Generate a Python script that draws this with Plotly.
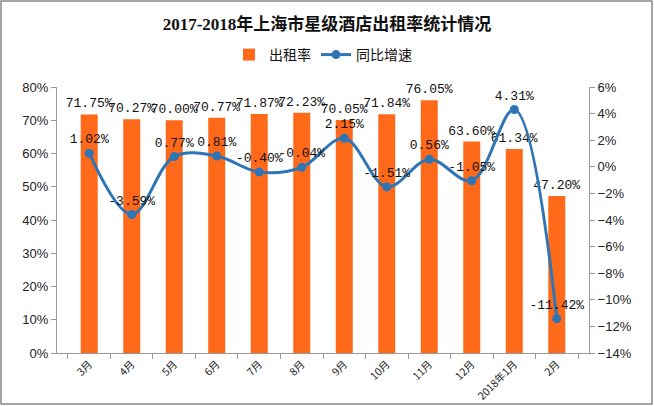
import plotly.graph_objects as go

categories = ["3月", "4月", "5月", "6月", "7月", "8月", "9月", "10月", "11月", "12月", "2018年1月", "2月"]
occupancy = [71.75, 70.27, 70.00, 70.77, 71.87, 72.23, 70.05, 71.84, 76.05, 63.60, 61.34, 47.20]
yoy = [1.02, -3.59, 0.77, 0.81, -0.40, -0.04, 2.15, -1.51, 0.56, -1.05, 4.31, -11.42]

W, H = 654, 406
L, R, T, B = 57, 65, 87, 53
pw, ph = W - L - R, H - T - B

label_font = dict(family="Liberation Mono, Noto Sans CJK SC", size=13, color="#111111")

fig = go.Figure()
fig.add_trace(go.Bar(
    x=categories, y=occupancy, name="出租率",
    marker=dict(color="#FF6A1A", line=dict(width=0)),
    text=[f"{v:.2f}%" for v in occupancy], textposition="outside",
    textfont=label_font, cliponaxis=False, constraintext="none", textangle=0,
))
fig.add_trace(go.Scatter(
    x=categories, y=yoy, name="同比增速", yaxis="y2",
    mode="lines+markers+text", line=dict(color="#2E75B6", width=3, shape="spline", smoothing=1.0),
    marker=dict(color="#2E75B6", size=9),
    text=[f"{v:.2f}%" for v in yoy], textposition="top center",
    textfont=label_font, cliponaxis=False,
))

def px_x(p):
    return (p - L) / pw

def px_y(p):
    return (H - B - p) / ph

fig.update_layout(
    width=W, height=H,
    margin=dict(l=L, r=R, t=T, b=B, autoexpand=False),
    paper_bgcolor="white", plot_bgcolor="white",
    title=dict(text="<b>2017-2018年上海市星级酒店出租率统计情况</b>", x=0.5, xanchor="center",
               y=1 - 24 / H, yanchor="middle",
               font=dict(family="Liberation Serif, Noto Sans CJK SC", size=17, color="#111111")),
    legend=dict(orientation="h", x=0.5, xanchor="center", y=1 - 55 / H, yref="container", yanchor="middle",
                font=dict(family="Noto Sans CJK SC", size=14, color="#111111"), itemwidth=30),
    bargap=0.6,
    showlegend=True,
    xaxis=dict(type="category", showline=True, linecolor="#999999", ticks="outside", tickcolor="#999999",
               tickson="boundaries", ticklen=5,
               tickangle=-45, tickfont=dict(family="Noto Sans CJK SC", size=10.5, color="#222222"),
               showgrid=False, automargin=False),
    yaxis=dict(range=[0, 80], dtick=10, ticksuffix="%", showline=True, linecolor="#999999",
               ticks="outside", tickcolor="#999999", showgrid=False, zeroline=False, automargin=False,
               tickfont=dict(family="Liberation Sans, DejaVu Sans", size=13, color="#222222")),
    yaxis2=dict(range=[-14, 6], dtick=2, ticksuffix="%", overlaying="y", side="right", showline=True,
                linecolor="#999999", ticks="outside", tickcolor="#999999", showgrid=False, zeroline=False,
                automargin=False,
                tickfont=dict(family="Liberation Sans, DejaVu Sans", size=13, color="#222222")),
    shapes=[dict(type="rect", xref="paper", yref="paper",
                 x0=px_x(1), x1=px_x(W - 2), y0=px_y(H - 2), y1=px_y(1),
                 line=dict(color="#888888", width=1.5), layer="below")],
)

fig.write_html("out.html", config={"displayModeBar": False},
               post_script="document.body.style.margin='0';document.body.style.overflow='hidden';")
